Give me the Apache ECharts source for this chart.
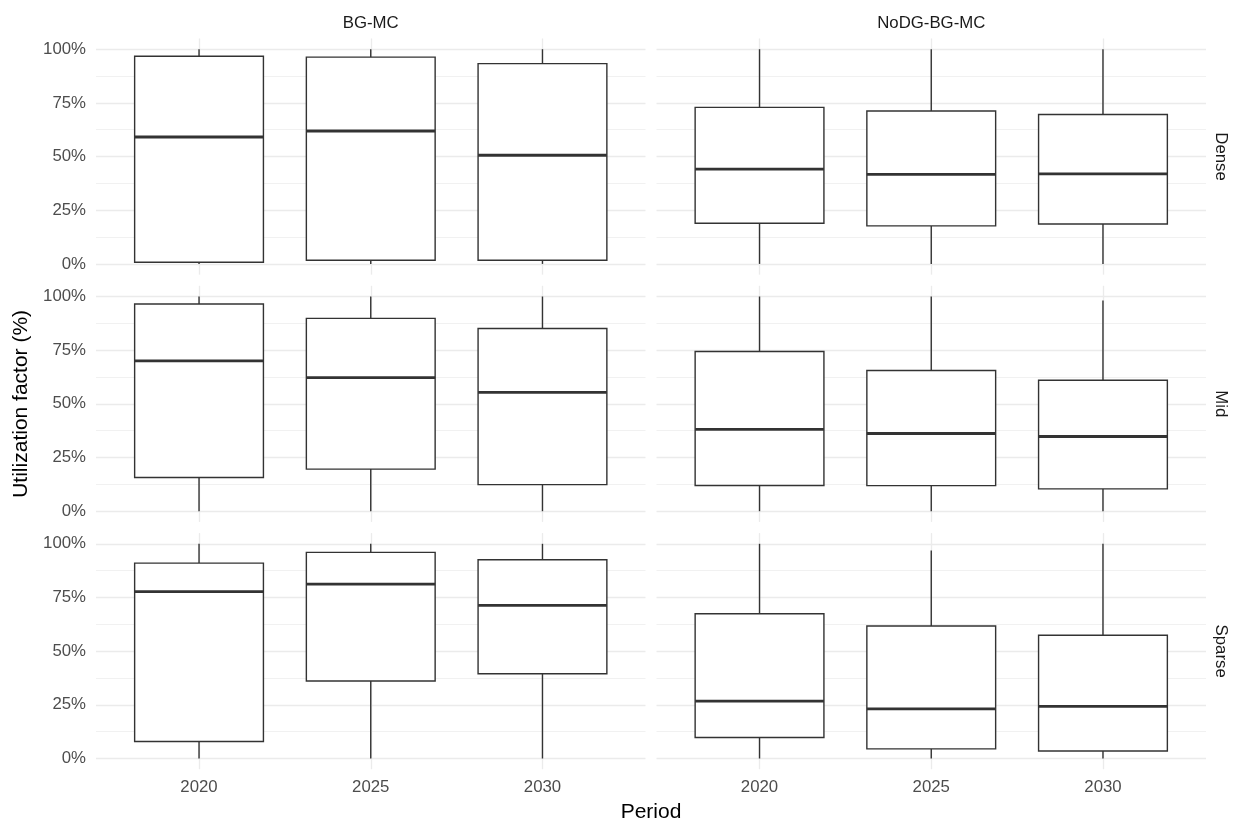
<!DOCTYPE html>
<html>
<head>
<meta charset="utf-8">
<script src="https://cdn.jsdelivr.net/npm/echarts@6/dist/echarts.min.js"></script>
<style>
  html, body { margin: 0; padding: 0; background: #fff; }
  #chart { width: 1233px; height: 821px; }
</style>
</head>
<body>
<div id="chart"></div>
<script>
// categories and facets
var periods = ['2020', '2025', '2030'];
var scenarios = ['BG-MC', 'NoDG-BG-MC'];
var densities = ['Dense', 'Mid', 'Sparse'];

// one row per period: [lower whisker, Q1, median, Q3, upper whisker] in %
var denseBG    = [[0, 0.8, 59.1, 96.7, 100], [0, 1.7, 61.9, 96.3, 100], [0, 1.7, 50.6, 93.3, 100]];
var denseNoDG  = [[0, 18.9, 44.1, 72.9, 100], [0, 17.7, 41.7, 71.2, 100], [0, 18.6, 41.9, 69.6, 100]];
var midBG      = [[0, 15.7, 70.0, 96.5, 100], [0, 19.6, 62.2, 89.8, 100], [0, 12.4, 55.3, 85.1, 100]];
var midNoDG    = [[0, 12.0, 38.1, 74.4, 100], [0, 11.9, 36.2, 65.5, 100], [0, 10.4, 34.8, 61.0, 98.1]];
var sparseBG   = [[0, 7.9, 77.7, 91.0, 100], [0, 36.1, 81.2, 96.0, 100], [0, 39.5, 71.3, 92.6, 100]];
var sparseNoDG = [[0, 9.8, 26.7, 67.4, 100], [0, 4.5, 23.1, 61.7, 96.9], [0, 3.5, 24.3, 57.4, 100]];

var panels = [[denseBG, denseNoDG], [midBG, midNoDG], [sparseBG, sparseNoDG]];

// layout (ggplot-like facet grid)
var panelLeft = [96, 656.5];
var panelW = 549.5;
var unit = panelW / 3.2;          // discrete scale: 0.6 expansion on each side
var rowTop = [49.2, 296.5, 543.8]; // y of 100%
var span = 214.7;                  // 0..100%
var pad = span * 0.05;             // 5% continuous expansion

var font = 'Liberation Sans, Arial, sans-serif';
var boxColor = '#333333';

function renderBox(params, api) {
    var x = api.value(0);
    var lo = api.coord([x, api.value(1)]);
    var q1 = api.coord([x, api.value(2)]);
    var md = api.coord([x, api.value(3)]);
    var q3 = api.coord([x, api.value(4)]);
    var hi = api.coord([x, api.value(5)]);
    var half = api.size([1, 0])[0] * 0.75 / 2;
    var cx = md[0];
    return {
        type: 'group',
        children: [
            { type: 'line', shape: { x1: cx, y1: hi[1], x2: cx, y2: q3[1] }, style: { stroke: boxColor, lineWidth: 1.4 } },
            { type: 'line', shape: { x1: cx, y1: q1[1], x2: cx, y2: lo[1] }, style: { stroke: boxColor, lineWidth: 1.4 } },
            { type: 'rect', shape: { x: cx - half, y: q3[1], width: half * 2, height: q1[1] - q3[1] },
              style: { fill: '#ffffff', stroke: boxColor, lineWidth: 1.4 } },
            { type: 'line', shape: { x1: cx - half, y1: md[1], x2: cx + half, y2: md[1] }, style: { stroke: boxColor, lineWidth: 2.8 } }
        ]
    };
}

var grids = [], xAxes = [], yAxes = [], series = [], graphics = [];

densities.forEach(function (dens, r) {
    scenarios.forEach(function (scen, c) {
        var gi = grids.length;
        // background grid: horizontal gridlines + y labels
        grids.push({ left: panelLeft[c], top: rowTop[r], width: panelW, height: span });
        xAxes.push({ gridIndex: gi, type: 'value', min: 0, max: 1, show: false });
        yAxes.push({
            gridIndex: gi, type: 'value', min: 0, max: 100, interval: 25,
            axisLine: { show: false }, axisTick: { show: false },
            axisLabel: { show: c === 0, formatter: '{value}%', color: '#4D4D4D', fontSize: 16.8, fontFamily: font, margin: 10 },
            splitLine: { show: true, lineStyle: { color: '#EBEBEB', width: 1.3 } },
            minorTick: { show: false, splitNumber: 2 },
            minorSplitLine: { show: true, lineStyle: { color: '#EEEEEE', width: 0.8 } }
        });
        // box grid: category positions, vertical gridlines, boxes
        grids.push({ left: panelLeft[c] + 0.6 * unit, top: rowTop[r] - pad, width: 2 * unit, height: span + 2 * pad });
        xAxes.push({
            gridIndex: gi + 1, type: 'category', data: periods, boundaryGap: false,
            axisLine: { show: false }, axisTick: { show: false },
            axisLabel: { show: r === 2, interval: 0, color: '#4D4D4D', fontSize: 16.8, fontFamily: font, margin: 10 },
            splitLine: { show: true, interval: 0, lineStyle: { color: '#EBEBEB', width: 1.3 } }
        });
        yAxes.push({ gridIndex: gi + 1, type: 'value', min: -5, max: 105, show: false });
        series.push({
            type: 'custom',
            name: dens + ' ' + scen,
            xAxisIndex: gi + 1,
            yAxisIndex: gi + 1,
            renderItem: renderBox,
            encode: { x: 0, y: [1, 2, 3, 4, 5] },
            data: periods.map(function (p, i) { return [p].concat(panels[r][c][i]); }),
            silent: true
        });
    });
    // row strip label
    graphics.push({
        type: 'text', x: 1221, y: rowTop[r] + span / 2, rotation: -Math.PI / 2,
        style: { text: dens, fill: '#1A1A1A', font: '16.8px ' + font, textAlign: 'center', textVerticalAlign: 'middle' }
    });
});

// column strip labels
scenarios.forEach(function (scen, c) {
    graphics.push({
        type: 'text', x: panelLeft[c] + panelW / 2, y: 23,
        style: { text: scen, fill: '#1A1A1A', font: '16.8px ' + font, textAlign: 'center', textVerticalAlign: 'middle' }
    });
});

// axis titles
graphics.push({
    type: 'text', x: 21, y: rowTop[1] + span / 2, rotation: Math.PI / 2,
    style: { text: 'Utilization factor (%)', fill: '#000000', font: '21px ' + font, textAlign: 'center', textVerticalAlign: 'middle' }
});
graphics.push({
    type: 'text', x: (panelLeft[0] + panelLeft[1] + panelW) / 2, y: 812,
    style: { text: 'Period', fill: '#000000', font: '21px ' + font, textAlign: 'center', textVerticalAlign: 'middle' }
});

var chart = echarts.init(document.getElementById('chart'), null, { renderer: 'canvas' });
chart.setOption({
    backgroundColor: '#ffffff',
    animation: false,
    grid: grids,
    xAxis: xAxes,
    yAxis: yAxes,
    series: series,
    graphic: graphics
});
</script>
</body>
</html>
